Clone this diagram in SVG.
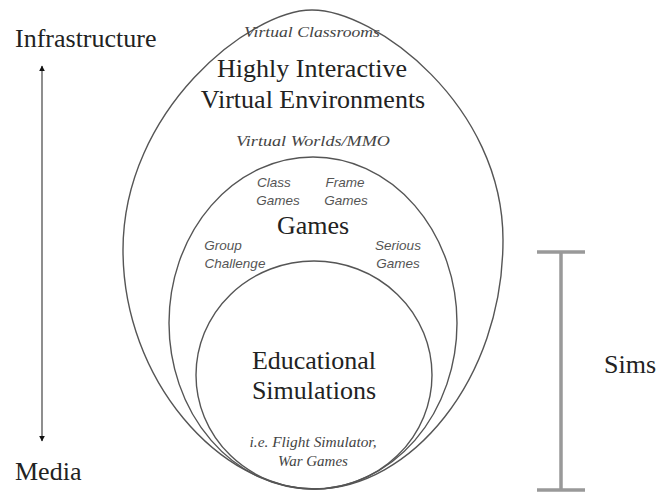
<svg xmlns="http://www.w3.org/2000/svg" width="664" height="492" viewBox="0 0 664 492">
  <defs>
    <marker id="tip" viewBox="0 0 10 10" refX="9" refY="5" markerWidth="6" markerHeight="6" orient="auto-start-reverse" markerUnits="userSpaceOnUse">
      <path d="M0,0 L10,5 L0,10 z" fill="#111"/>
    </marker>
    <style>
      .ring { fill: none; stroke: #555; stroke-width: 1.4; }
      .big { font-family: "Liberation Serif", "Times New Roman", serif; font-size: 26px; fill: #222; text-anchor: middle; }
      .axis { font-family: "Liberation Serif", "Times New Roman", serif; font-size: 26px; fill: #222; }
      .note { font-family: "Liberation Serif", "Times New Roman", serif; font-style: italic; font-size: 15px; fill: #444; text-anchor: middle; }
      .tag { font-family: "Liberation Sans", Arial, sans-serif; font-style: italic; font-size: 13.5px; fill: #555; text-anchor: middle; }
      .bar { stroke: #999; stroke-width: 3.5; fill: none; }
    </style>
  </defs>
  <rect width="664" height="492" fill="#fff"/>

  <!-- nested regions: egg-shaped outer, ellipse middle, near-circle inner -->
  <g id="virtual-environments">
    <path class="ring" d="M312,10 C250,10 123,110 123,250 C123,380 220,489 315,489 C410,489 503,380 503,240 C503,105 375,10 312,10 Z"/>
    <text class="note" x="312" y="37" textLength="136" lengthAdjust="spacingAndGlyphs">Virtual Classrooms</text>
    <text class="big" x="312" y="77">Highly Interactive</text>
    <text class="big" x="313" y="108">Virtual Environments</text>
    <text class="note" x="313" y="146" textLength="154" lengthAdjust="spacingAndGlyphs">Virtual Worlds/MMO</text>
  </g>

  <g id="games">
    <ellipse class="ring" cx="313" cy="323" rx="144" ry="166"/>
    <text class="tag" x="274" y="187">Class</text>
    <text class="tag" x="278" y="205">Games</text>
    <text class="tag" x="345" y="187">Frame</text>
    <text class="tag" x="346" y="205">Games</text>
    <text class="big" x="313" y="234">Games</text>
    <text class="tag" x="223" y="250">Group</text>
    <text class="tag" x="235" y="268">Challenge</text>
    <text class="tag" x="398" y="250">Serious</text>
    <text class="tag" x="398" y="268">Games</text>
  </g>

  <g id="educational-simulations">
    <ellipse class="ring" cx="314" cy="375" rx="118" ry="114"/>
    <text class="big" x="314" y="369">Educational</text>
    <text class="big" x="314" y="399">Simulations</text>
    <text class="note" x="313" y="447" font-size="13" textLength="127" lengthAdjust="spacingAndGlyphs">i.e. Flight Simulator,</text>
    <text class="note" x="313" y="466" font-size="13">War Games</text>
  </g>

  <!-- axes -->
  <g id="axis-labels">
    <text class="axis" x="15" y="47">Infrastructure</text>
    <text class="axis" x="15" y="480">Media</text>
    <text class="axis" x="604" y="373">Sims</text>
  </g>

  <g id="connectors">
    <line x1="42" y1="66" x2="42" y2="441" stroke="#444" stroke-width="1.2" marker-start="url(#tip)" marker-end="url(#tip)"/>
    <line class="bar" x1="561" y1="252" x2="561" y2="490"/>
    <line class="bar" x1="537" y1="252" x2="585" y2="252"/>
    <line class="bar" x1="537" y1="490" x2="585" y2="490"/>
  </g>
</svg>
